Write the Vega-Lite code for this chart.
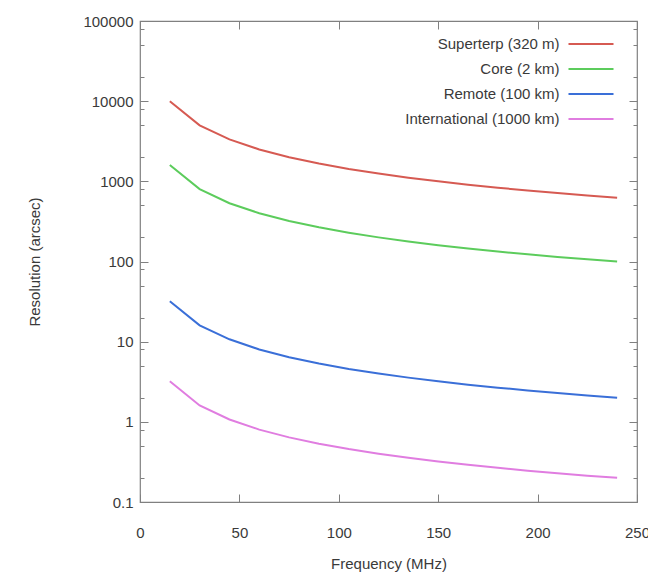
{
  "$schema": "https://vega.github.io/schema/vega-lite/v6.json",
  "width": 497,
  "height": 481,
  "autosize": "none",
  "padding": {"left": 140, "top": 21, "right": 11, "bottom": 71},
  "background": "white",
  "config": {
    "view": {"stroke": "#808080", "strokeWidth": 1.2},
    "axis": {
      "domain": false,
      "grid": false,
      "tickColor": "#808080",
      "tickWidth": 1,
      "labelFont": "Liberation Sans",
      "labelFontSize": 15,
      "labelColor": "#3a3a3a",
      "titleFont": "Liberation Sans",
      "titleFontSize": 15,
      "titleFontWeight": "normal",
      "titleColor": "#3a3a3a"
    }
  },
  "datasets": {
    "d": [
      {"f": 15, "Superterp (320 m)": 10000, "Core (2 km)": 1600, "Remote (100 km)": 32, "International (1000 km)": 3.2},
      {"f": 30, "Superterp (320 m)": 5000, "Core (2 km)": 800, "Remote (100 km)": 16, "International (1000 km)": 1.6},
      {"f": 45, "Superterp (320 m)": 3333, "Core (2 km)": 533, "Remote (100 km)": 10.7, "International (1000 km)": 1.07},
      {"f": 60, "Superterp (320 m)": 2500, "Core (2 km)": 400, "Remote (100 km)": 8, "International (1000 km)": 0.8},
      {"f": 75, "Superterp (320 m)": 2000, "Core (2 km)": 320, "Remote (100 km)": 6.4, "International (1000 km)": 0.64},
      {"f": 90, "Superterp (320 m)": 1667, "Core (2 km)": 267, "Remote (100 km)": 5.33, "International (1000 km)": 0.533},
      {"f": 105, "Superterp (320 m)": 1429, "Core (2 km)": 229, "Remote (100 km)": 4.57, "International (1000 km)": 0.457},
      {"f": 120, "Superterp (320 m)": 1250, "Core (2 km)": 200, "Remote (100 km)": 4, "International (1000 km)": 0.4},
      {"f": 135, "Superterp (320 m)": 1111, "Core (2 km)": 178, "Remote (100 km)": 3.56, "International (1000 km)": 0.356},
      {"f": 150, "Superterp (320 m)": 1000, "Core (2 km)": 160, "Remote (100 km)": 3.2, "International (1000 km)": 0.32},
      {"f": 165, "Superterp (320 m)": 909, "Core (2 km)": 145, "Remote (100 km)": 2.91, "International (1000 km)": 0.291},
      {"f": 180, "Superterp (320 m)": 833, "Core (2 km)": 133, "Remote (100 km)": 2.67, "International (1000 km)": 0.267},
      {"f": 195, "Superterp (320 m)": 769, "Core (2 km)": 123, "Remote (100 km)": 2.46, "International (1000 km)": 0.246},
      {"f": 210, "Superterp (320 m)": 714, "Core (2 km)": 114, "Remote (100 km)": 2.29, "International (1000 km)": 0.229},
      {"f": 225, "Superterp (320 m)": 667, "Core (2 km)": 107, "Remote (100 km)": 2.13, "International (1000 km)": 0.213},
      {"f": 240, "Superterp (320 m)": 625, "Core (2 km)": 100, "Remote (100 km)": 2, "International (1000 km)": 0.2}
    ]
  },
  "data": {"name": "d"},
  "transform": [
    {"fold": ["Superterp (320 m)", "Core (2 km)", "Remote (100 km)", "International (1000 km)"], "as": ["series", "res"]}
  ],
  "layer": [
    {
      "mark": {"type": "line", "strokeWidth": 2},
      "encoding": {
        "x": {
          "field": "f", "type": "quantitative",
          "scale": {"domain": [0, 250], "nice": false, "zero": false},
          "axis": {"orient": "bottom", "values": [0, 50, 100, 150, 200, 250], "tickSize": -8, "labelPadding": 31, "title": "Frequency (MHz)", "titlePadding": 16, "labelFlush": false}
        },
        "y": {
          "field": "res", "type": "quantitative",
          "scale": {"type": "log", "domain": [0.1, 100000], "nice": false},
          "axis": {"orient": "left", "values": [0.1, 1, 10, 100, 1000, 10000, 100000], "format": "~g", "tickSize": -8, "labelPadding": 15, "title": "Resolution (arcsec)", "titlePadding": 40, "labelFlush": false}
        },
        "color": {
          "field": "series", "type": "nominal",
          "scale": {
            "domain": ["Superterp (320 m)", "Core (2 km)", "Remote (100 km)", "International (1000 km)"],
            "range": ["#d65a52", "#5ccc5c", "#3a6fd8", "#e07de0"]
          },
          "legend": {
            "orient": "none", "legendX": 442.5, "legendY": 14.5,
            "title": null, "padding": 0,
            "symbolType": "M-3,0H3", "symbolSize": 225, "symbolStrokeWidth": 2,
            "labelAlign": "right", "labelOffset": -40, "labelFont": "Liberation Sans",
            "labelFontSize": 15, "labelColor": "#3a3a3a", "rowPadding": 8, "labelLimit": 300
          }
        }
      }
    },
    {
      "mark": {"type": "line", "opacity": 0},
      "encoding": {
        "x": {"field": "f", "type": "quantitative", "scale": {"domain": [0, 250], "nice": false, "zero": false},
              "axis": {"orient": "top", "values": [0, 50, 100, 150, 200, 250], "tickSize": -8, "labels": false, "title": null}},
        "y": {"field": "res", "type": "quantitative", "scale": {"type": "log", "domain": [0.1, 100000], "nice": false},
              "axis": {"orient": "left", "values": [0.2, 0.5, 0.8, 2, 5, 8, 20, 50, 80, 200, 500, 800, 2000, 5000, 8000, 20000, 50000, 80000], "tickSize": -4, "labels": false, "title": null}}
      }
    },
    {
      "mark": {"type": "line", "opacity": 0},
      "encoding": {
        "x": {"field": "f", "type": "quantitative", "scale": {"domain": [0, 250], "nice": false, "zero": false}, "axis": null},
        "y": {"field": "res", "type": "quantitative", "scale": {"type": "log", "domain": [0.1, 100000], "nice": false},
              "axis": {"orient": "right", "values": [0.1, 1, 10, 100, 1000, 10000, 100000], "tickSize": -8, "labels": false, "title": null}}
      }
    },
    {
      "mark": {"type": "line", "opacity": 0},
      "encoding": {
        "x": {"field": "f", "type": "quantitative", "scale": {"domain": [0, 250], "nice": false, "zero": false}, "axis": null},
        "y": {"field": "res", "type": "quantitative", "scale": {"type": "log", "domain": [0.1, 100000], "nice": false},
              "axis": {"orient": "right", "values": [0.2, 0.5, 0.8, 2, 5, 8, 20, 50, 80, 200, 500, 800, 2000, 5000, 8000, 20000, 50000, 80000], "tickSize": -4, "labels": false, "title": null}}
      }
    }
  ],
  "resolve": {"axis": {"x": "independent", "y": "independent"}}
}
